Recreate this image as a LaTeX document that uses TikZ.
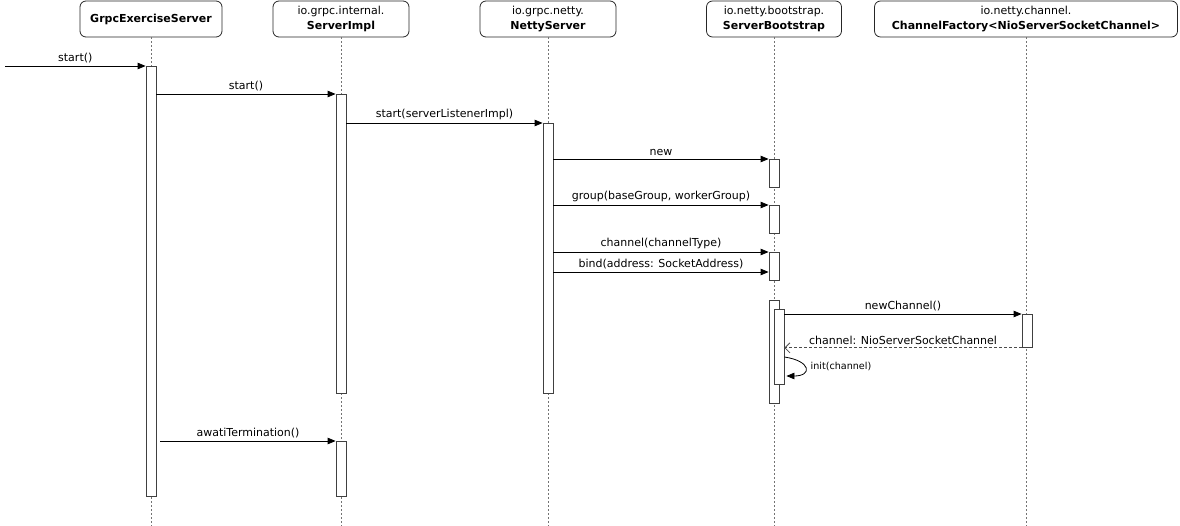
\documentclass[tikz,border=0pt]{standalone}
\usepackage{fontspec}
\setmainfont{DejaVu Sans}
\usetikzlibrary{arrows.meta,calc}
\begin{document}
\begin{tikzpicture}[x=1pt,y=-1pt,
  font=\fontsize{11}{15}\selectfont,
  head/.style={draw=black!85, rounded corners=6pt, minimum height=36pt, inner sep=0pt, align=center, anchor=north, line width=0.8pt},
  life/.style={draw=black!55, dash pattern=on 2pt off 2pt, line width=0.9pt},
  act/.style={draw=black!75, fill=white, minimum width=10pt, inner sep=0pt, anchor=north, line width=0.8pt},
  msg/.style={-{Triangle[length=8pt,width=6.5pt]}, line width=0.8pt},
  ret/.style={-{Straight Barb[length=5pt,width=10pt]}, draw=black!70, dash pattern=on 3pt off 2pt, line width=0.8pt},
  lbl/.style={above, inner sep=3pt}
]
\useasboundingbox (0,0) rectangle (1180,526);
\coordinate (bottom) at (0,526);
% headers
\node[head, minimum width=142pt] (h1) at (151,0.6) {\textbf{GrpcExerciseServer}};
\node[head, minimum width=136pt] (h2) at (341,0.6) {io.grpc.internal.\\\textbf{ServerImpl}};
\node[head, minimum width=136pt] (h3) at (548,0.6) {io.grpc.netty.\\\textbf{NettyServer}};
\node[head, minimum width=135pt] (h4) at (774,0.6) {io.netty.bootstrap.\\\textbf{ServerBootstrap}};
\node[head, minimum width=303pt] (h5) at (1026,0.6) {io.netty.channel.\\\textbf{ChannelFactory<NioServerSocketChannel>}};
% lifelines
\foreach \h in {h1,h2,h3,h4,h5} \draw[life] (\h.south) -- (\h.south |- bottom);
% activations
\node[act, minimum height=430pt] (a1) at (151,66) {};
\node[act, minimum height=299pt] (a2) at (341,94) {};
\node[act, minimum height=270pt] (a3) at (548,123) {};
\node[act, minimum height=28pt] (b1) at (774,159) {};
\node[act, minimum height=28pt] (b2) at (774,205) {};
\node[act, minimum height=28pt] (b3) at (774,252) {};
\node[act, minimum height=103pt] (b4) at (774,300) {};
\node[act, minimum height=75pt] (b5) at (779,309) {};
\node[act, minimum height=33pt] (c1) at (1027,314) {};
\node[act, minimum height=55pt] (a4) at (341,441) {};
% messages
\coordinate (start) at (5,66);
\draw[msg] (start) -- (a1.north west) node[lbl, midway] {start()};
\draw[msg] (a1.east |- a2.north) -- (a2.north west) node[lbl, midway] {start()};
\draw[msg] (a2.east |- a3.north) -- (a3.north west) node[lbl, midway] {start(serverListenerImpl)};
\draw[msg] (a3.east |- b1.north) -- (b1.north west) node[lbl, midway] {new};
\draw[msg] (a3.east |- b2.north) -- (b2.north west) node[lbl, midway] {group(baseGroup, workerGroup)};
\draw[msg] (a3.east |- b3.north) -- (b3.north west) node[lbl, midway] {channel(channelType)};
\coordinate (bindend) at ([yshift=-20pt]b3.north west);
\draw[msg] (bindend -| a3.east) -- (bindend) node[lbl, midway] {bind(address: SocketAddress)};
\draw[msg] (b5.east |- c1.north) -- (c1.north west) node[lbl, midway] {newChannel()};
\draw[ret] (c1.south west) -- (c1.south west -| b5.east) node[lbl, midway] {channel: NioServerSocketChannel};
\coordinate (l1) at ([yshift=-48pt]b5.north east);
\coordinate (l2) at ([xshift=2pt,yshift=-67pt]b5.north east);
\draw[msg] (l1) .. controls ($(l1)+(27,4)$) and ($(l2)+(26,0)$) .. (l2);
\node[anchor=west, inner sep=0pt, font=\fontsize{9.6}{11}\selectfont] (initlbl) at ([xshift=26pt,yshift=-57pt]b5.north east) {init(channel)};
\draw[msg] ($(a1.east |- a4.north)+(4,0)$) -- (a4.north west) node[lbl, midway] {awatiTermination()};
\end{tikzpicture}
\end{document}
